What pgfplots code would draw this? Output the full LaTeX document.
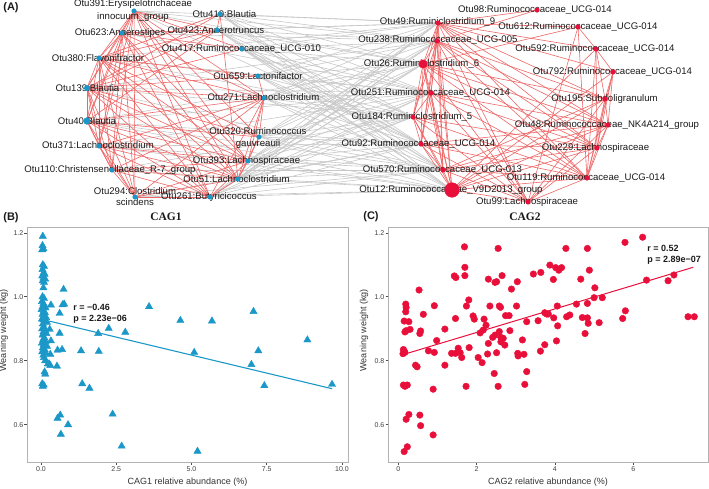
\documentclass[border=0pt]{standalone}
\usepackage{pgfplots}
\pgfplotsset{compat=1.18}
\usepackage{fontspec}
\setmainfont{Liberation Sans}
\newfontfamily\timesfont{Liberation Serif}
\definecolor{cagblue}{HTML}{1B98C8}
\definecolor{cagred}{HTML}{E8103A}
\definecolor{edgered}{HTML}{EE6666}
\definecolor{edgegray}{HTML}{C8C8C8}
\definecolor{txt}{HTML}{1A1A1A}

% network node positions (pixel coordinates of the figure)
\newcommand\N[3]{\expandafter\def\csname nx#1\endcsname{#2}\expandafter\def\csname ny#1\endcsname{#3}}
\N{L1}{134}{11}  \N{L2}{220}{14}  \N{L3}{122}{33}  \N{L4}{217}{30}
\N{L5}{242}{49}  \N{L6}{99}{58}   \N{L7}{258}{76}  \N{L8}{87}{88}
\N{L9}{264}{98}  \N{L10}{87}{121} \N{L11}{259}{137} \N{L12}{99}{146}
\N{L13}{248}{161} \N{L14}{112}{170} \N{L15}{238}{179} \N{L16}{135}{197}
\N{L17}{210}{197}
\N{R1}{537}{10}  \N{R2}{438}{23}  \N{R3}{578}{27}  \N{R4}{437}{41}
\N{R5}{596}{49}  \N{R6}{423}{64}  \N{R7}{613}{72}  \N{R8}{431}{93}
\N{R9}{605}{99}  \N{R10}{413}{117} \N{R11}{608}{125} \N{R12}{421}{144}
\N{R13}{597}{148} \N{R14}{443}{170} \N{R15}{587}{178} \N{R16}{452}{190}
\N{R17}{528}{202}
\newcommand\E[3]{\edef\tmpedge{\noexpand\addplot[#3] coordinates {(\csname nx#1\endcsname,\csname ny#1\endcsname) (\csname nx#2\endcsname,\csname ny#2\endcsname)};}\tmpedge}

\pgfplotstableread{
x y
0.06 1.189
0.05 1.160
0.08 1.150
0.04 1.147
0.06 1.100
0.10 1.095
0.05 1.085
0.09 1.075
0.12 1.070
0.04 1.065
0.08 1.058
0.14 1.055
0.06 1.050
0.10 1.045
0.08 1.028
0.05 1.000
0.10 0.995
0.03 0.985
0.08 0.978
0.12 0.972
0.05 0.968
0.15 0.965
0.02 0.960
0.09 0.955
0.13 0.950
0.05 0.945
0.10 0.940
0.17 0.935
0.03 0.930
0.08 0.928
0.12 0.925
0.20 0.920
0.06 0.915
0.10 0.905
0.04 0.900
0.14 0.895
0.08 0.890
0.18 0.885
0.05 0.880
0.11 0.872
0.07 0.865
0.15 0.860
0.03 0.855
0.09 0.850
0.20 0.845
0.06 0.840
0.12 0.835
0.04 0.828
0.16 0.823
0.08 0.818
0.10 0.810
0.14 0.800
0.23 0.790
0.12 0.765
0.14 0.758
0.04 0.728
0.09 0.724
0.06 0.720
0.33 0.974
0.75 1.023
0.77 0.977
0.72 0.975
0.62 0.948
0.29 0.898
0.62 0.886
0.33 0.862
0.70 0.835
0.55 0.833
0.31 0.820
0.27 0.790
0.31 0.785
0.53 0.783
0.64 0.630
0.55 0.620
0.66 0.570
0.90 0.600
1.33 0.831
1.37 0.728
1.61 0.714
1.90 0.885
1.92 0.829
2.25 0.901
2.38 0.633
2.68 0.533
2.80 0.889
3.59 0.969
4.63 0.926
5.09 0.826
5.20 0.517
5.68 0.924
6.99 0.788
7.06 0.954
7.22 0.831
7.42 0.722
8.85 0.865
9.67 0.726
}\cagone

\pgfplotstableread{
x y
0.15 0.516
0.23 0.531
0.27 0.632
0.20 0.617
0.55 0.630
0.57 0.597
0.89 0.568
0.89 0.711
0.13 0.724
0.17 0.720
0.23 0.724
0.44 0.786
0.48 0.781
0.15 0.830
0.13 0.835
0.17 0.826
0.12 0.822
0.20 0.894
0.17 0.890
0.15 0.924
0.27 0.922
0.30 0.898
0.19 0.953
0.20 0.967
0.19 0.977
0.55 0.885
0.57 0.893
0.53 1.021
0.64 0.945
0.92 0.972
0.98 0.863
0.92 0.826
0.77 0.831
1.19 0.899
1.19 0.786
1.36 0.823
1.46 0.823
1.53 0.839
1.58 0.825
1.62 0.810
1.46 0.932
1.43 1.065
1.47 1.060
1.70 1.092
1.70 1.066
1.74 0.971
1.80 0.990
1.81 0.841
1.73 0.720
1.91 0.940
1.94 0.930
2.04 0.810
2.09 0.887
2.14 0.794
2.19 0.930
2.17 0.896
2.24 0.911
2.28 0.821
2.30 0.854
2.30 1.055
2.34 0.971
2.41 0.873
2.47 0.880
2.45 0.760
2.47 1.045
2.51 1.047
2.51 0.825
2.55 0.720
2.58 0.891
2.58 0.971
2.61 0.967
2.62 0.873
2.62 0.859
2.65 1.066
2.68 0.870
2.72 0.849
2.74 0.941
2.83 0.941
2.89 1.024
2.85 0.894
3.04 1.047
3.02 0.971
3.05 0.823
3.06 0.815
3.17 0.865
3.21 0.820
3.23 0.726
3.28 0.766
3.28 0.922
3.45 1.071
3.57 0.925
3.64 1.076
3.63 0.830
3.74 0.850
3.74 0.950
3.79 0.946
3.83 0.946
3.87 1.099
3.96 1.054
3.97 0.934
4.02 1.091
4.04 0.862
4.06 0.971
4.07 0.909
4.10 1.083
4.17 1.091
4.30 0.9375
4.38 0.943
4.55 0.977
4.66 1.055
4.70 0.935
4.77 0.885
4.83 0.979
4.83 0.934
4.85 0.917
4.88 1.083
5.02 1.028
5.00 0.997
5.13 0.919
5.21 0.997
5.73 0.932
5.80 0.956
6.34 1.052
6.89 1.050
7.04 1.068
7.40 0.9375
7.56 0.9375
1.69 1.156
2.55 1.151
4.28 1.151
4.83 1.151
5.79 1.170
6.24 1.186
}\cagtwo

\tikzset{netlab/.style={font=\fontsize{9.6}{12.5}\selectfont, text=txt, align=center, inner sep=0pt}}
\pgfplotsset{
  gedge/.style={edgegray, line width=0.6pt, forget plot},
  redge/.style={edgered, line width=0.6pt, forget plot},
  cagaxis/.style={scale only axis, clip=false,
    axis line style={draw=black!30, line width=0.6pt},
    tick style={draw=black!70, line width=0.5pt},
    major tick length=2.5pt, tick align=outside,
    xtick pos=lower, ytick pos=left,
    ymin=0.4834, ymax=1.218,
    ytick={0.6,0.8,1.0,1.2}, yticklabels={0.6,0.8,1.0,1.2},
    tick label style={font=\fontsize{7}{8}\selectfont, text=black!75},
    yticklabel style={inner sep=1pt},
    xticklabel style={inner sep=1.5pt},
    label style={font=\fontsize{9}{10}\selectfont, text=black!80},
    ylabel={Weaning weight (kg)},
    xlabel style={at={(axis description cs:0.5,-0.085)}, anchor=center},
  },
}

\begin{document}
\begin{tikzpicture}
\path[use as bounding box] (0pt,0pt) rectangle (709pt,488pt);

% ---------------- (A) network ----------------
\begin{axis}[at={(0pt,488pt)}, anchor=north west, scale only axis,
  width=709pt, height=210pt, xmin=0, xmax=709, ymin=0, ymax=210,
  y dir=reverse, hide axis, clip=false]
% gray between-cluster edges
\foreach \a/\b in {L2/R2,L2/R4,L2/R6,L2/R8,L2/R10,L2/R12,L2/R14,L2/R16,
  L4/R2,L4/R4,L4/R6,L4/R8,L4/R10,L4/R12,L4/R14,L4/R16,
  L5/R2,L5/R4,L5/R6,L5/R8,L5/R10,L5/R12,L5/R14,L5/R16,
  L7/R2,L7/R4,L7/R6,L7/R8,L7/R10,L7/R12,L7/R14,L7/R16,
  L9/R2,L9/R4,L9/R6,L9/R8,L9/R10,L9/R12,L9/R14,L9/R16,
  L11/R2,L11/R4,L11/R6,L11/R8,L11/R10,L11/R12,L11/R14,L11/R16,
  L13/R2,L13/R4,L13/R6,L13/R8,L13/R10,L13/R12,L13/R14,L13/R16,
  L15/R2,L15/R4,L15/R6,L15/R8,L15/R10,L15/R12,L15/R14,L15/R16,
  L17/R2,L17/R4,L17/R6,L17/R8,L17/R10,L17/R12,L17/R14,L17/R16,
  L1/R2,L1/R4,L1/R6,L1/R12,L8/R4,L8/R8,L8/R10,L8/R14,
  L10/R6,L10/R8,L10/R12,L10/R16,L10/R14,L6/R2,L6/R10,L6/R8,
  L12/R8,L12/R12,L12/R14,L12/R16,L14/R10,L14/R16,L14/R14,
  L16/R12,L16/R14,L16/R16,L3/R4,L3/R8,L3/R2}
  {\E{\a}{\b}{gedge}}
% red within-cluster edges (CAG1)
\foreach \a/\b in {L1/L3,L1/L6,L1/L8,L1/L10,L1/L12,L1/L14,L1/L16,L1/L17,L1/L15,L1/L13,L1/L9,L1/L11,L1/L5,
  L3/L6,L3/L8,L3/L10,L3/L12,L3/L14,L3/L16,L3/L17,L3/L15,L3/L9,L3/L13,
  L6/L8,L6/L10,L6/L12,L6/L14,L6/L16,L6/L17,L6/L15,L6/L13,L6/L9,L6/L11,L6/L7,
  L8/L10,L8/L12,L8/L14,L8/L16,L8/L17,L8/L15,L8/L13,L8/L9,L8/L11,L8/L7,L8/L5,
  L10/L12,L10/L14,L10/L16,L10/L17,L10/L15,L10/L13,L10/L9,L10/L11,
  L12/L14,L12/L16,L12/L17,L12/L15,L12/L9,L12/L13,
  L14/L16,L14/L17,L14/L15,L14/L13,L14/L9,
  L16/L17,L16/L15,L16/L13,L16/L9,
  L17/L15,L17/L13,L17/L9,
  L15/L13,L15/L9,L15/L11,L15/L2,
  L13/L9,L13/L11,L9/L11,L9/L7,
  L4/L1,L4/L3,L4/L6,L4/L8,L4/L10,L4/L2,L2/L8,L2/L6,L5/L3}
  {\E{\a}{\b}{redge}}
% red within-cluster edges (CAG2)
\foreach \a/\b in {R2/R4,R2/R6,R2/R8,R2/R10,R2/R12,R2/R14,R2/R16,R2/R17,R2/R15,R2/R13,R2/R11,R2/R9,R2/R7,R2/R5,R2/R3,R2/R1,
  R4/R6,R4/R8,R4/R10,R4/R12,R4/R14,R4/R16,R4/R17,R4/R15,R4/R13,R4/R11,R4/R9,R4/R1,
  R6/R8,R6/R10,R6/R12,R6/R14,R6/R16,R6/R17,R6/R15,R6/R13,R6/R11,R6/R9,R6/R3,
  R8/R10,R8/R12,R8/R14,R8/R16,R8/R17,R8/R15,R8/R13,R8/R11,
  R10/R12,R10/R14,R10/R16,R10/R17,R10/R15,R10/R13,
  R12/R14,R12/R16,R12/R17,R12/R15,R12/R13,R12/R11,
  R14/R16,R14/R17,R14/R15,R14/R13,R14/R11,R14/R9,
  R16/R17,R16/R15,R16/R13,R16/R11,R16/R9,R16/R7,R16/R5,
  R17/R15,R17/R13,R17/R11,R17/R9,R17/R3,
  R15/R13,R15/R11,R15/R9,R15/R7,R15/R5,R15/R3,
  R13/R11,R13/R9,R13/R7,R13/R5,R11/R9,R11/R7,R9/R7,R9/R5,R7/R5,R5/R3}
  {\E{\a}{\b}{redge}}
% labels
\node[netlab] at (axis cs:133,10.5) {Otu391:Erysipelotrichaceae\\innocuum\_group};
\node[netlab] at (axis cs:224.5,14) {Otu419:Blautia};
\node[netlab] at (axis cs:120,33) {Otu623:Anaerostipes};
\node[netlab] at (axis cs:216,30) {Otu423:Anaerotruncus};
\node[netlab] at (axis cs:241.5,49) {Otu417:Ruminococcaceae\_UCG-010};
\node[netlab] at (axis cs:98,58) {Otu380:Flavonifractor};
\node[netlab] at (axis cs:258,76) {Otu659:Lactonifactor};
\node[netlab] at (axis cs:87.5,88) {Otu139:Blautia};
\node[netlab] at (axis cs:263.5,97) {Otu271:Lachnoclostridium};
\node[netlab] at (axis cs:87,121) {Otu40:Blautia};
\node[netlab] at (axis cs:258,138) {Otu320:Ruminococcus\\gauvreauii};
\node[netlab] at (axis cs:98,145) {Otu371:Lachnoclostridium};
\node[netlab] at (axis cs:246.5,161) {Otu393:Lachnospiraceae};
\node[netlab] at (axis cs:110,170) {Otu110:Christensenellaceae\_R-7\_group};
\node[netlab] at (axis cs:236.5,179) {Otu51:Lachnoclostridium};
\node[netlab, font=\fontsize{9.6}{11}\selectfont] at (axis cs:135,196.5) {Otu294:Clostridium\\scindens};
\node[netlab] at (axis cs:209,197) {Otu261:Butyricicoccus};
\node[netlab] at (axis cs:535,10) {Otu98:Ruminococcaceae\_UCG-014};
\node[netlab] at (axis cs:437.5,22) {Otu49:Ruminiclostridium\_9};
\node[netlab] at (axis cs:578,27) {Otu612:Ruminococcaceae\_UCG-014};
\node[netlab] at (axis cs:438,40) {Otu238:Ruminococcaceae\_UCG-005};
\node[netlab] at (axis cs:595,49) {Otu592:Ruminococcaceae\_UCG-014};
\node[netlab] at (axis cs:421.5,64) {Otu26:Ruminiclostridium\_6};
\node[netlab] at (axis cs:612.5,72) {Otu792:Ruminococcaceae\_UCG-014};
\node[netlab] at (axis cs:430.5,93) {Otu251:Ruminococcaceae\_UCG-014};
\node[netlab] at (axis cs:604.5,99) {Otu195:Subdoligranulum};
\node[netlab] at (axis cs:412,117) {Otu184:Ruminiclostridium\_5};
\node[netlab] at (axis cs:607,125) {Otu48:Ruminococcaceae\_NK4A214\_group};
\node[netlab] at (axis cs:418.5,144) {Otu92:Ruminococcaceae\_UCG-014};
\node[netlab] at (axis cs:595.5,148) {Otu229:Lachnospiraceae};
\node[netlab] at (axis cs:442.5,170) {Otu570:Ruminococcaceae\_UCG-013};
\node[netlab] at (axis cs:586,178) {Otu119:Ruminococcaceae\_UCG-014};
\node[netlab] at (axis cs:451,190) {Otu12:Ruminococcaceae\_V9D2013\_group};
\node[netlab] at (axis cs:527,202) {Otu99:Lachnospiraceae};
% nodes
\addplot[only marks, mark=*, mark size=2.3pt, color=cagblue] coordinates {
(134,11) (220,14) (122,33) (217,30) (242,49) (99,58) (258,76) (264,98)
(259,137) (99,146) (248,161) (112,170) (238,179) (135,197) (210,197)};
\addplot[only marks, mark=*, mark size=2.8pt, color=cagblue] coordinates {(87,88)};
\addplot[only marks, mark=*, mark size=3.4pt, color=cagblue] coordinates {(87,121)};
\addplot[only marks, mark=*, mark size=2.3pt, color=cagred] coordinates {
(537,10) (438,23) (578,27) (437,41) (596,49) (613,72) (431,93) (605,99)
(413,117) (608,125) (421,144) (597,148) (443,170) (587,178) (528,202)};
\addplot[only marks, mark=*, mark size=4.2pt, color=cagred] coordinates {(423,64)};
\addplot[only marks, mark=*, mark size=7.3pt, color=cagred] coordinates {(452,190)};
\end{axis}

% ---------------- (B) CAG1 ----------------
\begin{axis}[cagaxis, at={(27pt,26pt)}, anchor=south west,
  width=321pt, height=235pt,
  xmin=-0.465, xmax=10.2,
  xtick={0,2.5,5,7.5,10}, xticklabels={0.0,2.5,5.0,7.5,10.0},
  xlabel={CAG1 relative abundance (\%)},
  ylabel style={at={(axis description cs:-0.072,0.56)}, anchor=center}]
\addplot[only marks, mark=triangle*, mark size=4.2pt, color=cagblue] table[x=x,y=y] {\cagone};
\addplot[cagblue, line width=1.1pt] coordinates {(0.27,0.924) (9.67,0.7125)};
\node[anchor=west, align=left, font=\bfseries\fontsize{9}{11}\selectfont, text=txt] at (axis cs:0.96,0.948) {r = −0.46\\p = 2.23e−06};
\end{axis}

% ---------------- (C) CAG2 ----------------
\begin{axis}[cagaxis, at={(388pt,26pt)}, anchor=south west,
  width=320pt, height=235pt,
  xmin=-0.263, xmax=7.91,
  xtick={0,2,4,6}, xticklabels={0,2,4,6},
  xlabel={CAG2 relative abundance (\%)},
  ylabel style={at={(axis description cs:-0.075,0.56)}, anchor=center}]
\addplot[only marks, mark=*, mark size=3.3pt, color=cagred] table[x=x,y=y] {\cagtwo};
\addplot[cagred, line width=1pt] coordinates {(0.145,0.82) (7.53,1.092)};
\node[anchor=west, align=left, font=\bfseries\fontsize{9}{11}\selectfont, text=txt] at (axis cs:6.27,1.13) {r = 0.52\\p = 2.89e−07};
\end{axis}

% titles and panel letters
\node[font=\timesfont\bfseries\fontsize{11.5}{12}\selectfont, text=txt] at (166pt,271pt) {CAG1};
\node[font=\timesfont\bfseries\fontsize{11.5}{12}\selectfont, text=txt] at (525pt,271pt) {CAG2};
\node[font=\bfseries\fontsize{11}{12}\selectfont, text=txt] at (11pt,480pt) {(A)};
\node[font=\bfseries\fontsize{11}{12}\selectfont, text=txt] at (11pt,270pt) {(B)};
\node[font=\bfseries\fontsize{11}{12}\selectfont, text=txt] at (371pt,271pt) {(C)};
\end{tikzpicture}
\end{document}
